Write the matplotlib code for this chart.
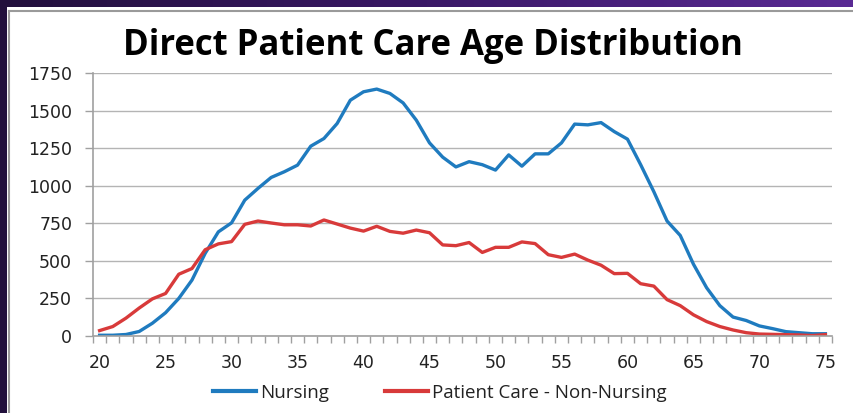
import numpy as np
import matplotlib
matplotlib.use("Agg")
import matplotlib.pyplot as plt
from matplotlib.patches import Rectangle
from matplotlib.lines import Line2D
from matplotlib.colors import LinearSegmentedColormap

ages = list(range(20, 76))
nursing = [5, 5, 10, 30, 85, 155, 250, 372, 550, 693, 753, 904, 982, 1055, 1093, 1137,
           1263, 1314, 1414, 1569, 1625, 1643, 1614, 1551, 1436, 1285, 1190, 1125, 1160,
           1140, 1104, 1205, 1130, 1212, 1212, 1285, 1410, 1405, 1420, 1360, 1310, 1140,
           960, 765, 669, 478, 321, 202, 126, 103, 67, 49, 29, 22, 15, 15]
non_nursing = [36, 63, 119, 186, 247, 283, 411, 449, 574, 613, 628, 743, 765, 752, 740, 740,
               732, 772, 745, 718, 698, 730, 696, 684, 705, 687, 606, 601, 622, 556, 590,
               590, 626, 615, 541, 523, 545, 505, 471, 415, 417, 348, 332, 242, 202, 141,
               96, 63, 40, 22, 13, 11, 9, 7, 3, 9]
x_tick_labels = list(range(20, 76, 5))
y_ticks = list(range(0, 1751, 250))
title = "Direct Patient Care Age Distribution"
series_names = ["Nursing", "Patient Care - Non-Nursing"]

W, H = 854, 413
fig = plt.figure(figsize=(W / 100, H / 100), dpi=100)

# background gradient
bg = fig.add_axes([0, 0, 1, 1], zorder=-10)
grad = np.linspace(0, 1, 256).reshape(1, -1)
cmap = LinearSegmentedColormap.from_list("p", ["#22103c", "#3a1866", "#5a2a94"])
bg.imshow(grad, aspect="auto", cmap=cmap, extent=[0, 1, 0, 1])
bg.set_xlim(0, 1); bg.set_ylim(0, 1)
bg.axis("off")
bg.add_patch(Rectangle((7 / W, 0), 1, 1 - 7 / H, facecolor="white", edgecolor="none"))
bg.add_line(Line2D([8.5 / W, 8.5 / W], [0, 1 - 10.5 / H], color="#9a9a9a", lw=1.5))
bg.add_line(Line2D([8.5 / W, 1], [1 - 10.5 / H, 1 - 10.5 / H], color="#9a9a9a", lw=1.5))

ax = fig.add_axes([93 / W, 1 - 336 / H, (832 - 93) / W, (336 - 73) / H])
blue = "#1f7bbf"
red = "#d83a3a"
ax.plot(ages, nursing, color=blue, lw=2.4, label=series_names[0], solid_joinstyle="round")
ax.plot(ages, non_nursing, color=red, lw=2.4, label=series_names[1], solid_joinstyle="round")

ax.set_xlim(19.5, 75.5)
ax.set_ylim(0, 1750)
ax.set_yticks(y_ticks)
ax.set_xticks(x_tick_labels)
ax.set_xticks(np.arange(19.5, 76, 1.0), minor=True)
ax.grid(axis="y", color="#b4b4b4", lw=1)
ax.set_axisbelow(True)
for s in ["top", "right"]:
    ax.spines[s].set_visible(False)
for s in ["left", "bottom"]:
    ax.spines[s].set_color("#a0a0a0")
    ax.spines[s].set_linewidth(1.2)
ax.tick_params(axis="y", length=6, width=1, color="#a0a0a0", pad=9,
               labelsize=12.5, labelcolor="#222222")
ax.tick_params(axis="x", which="major", length=0, pad=13, labelsize=12.5, labelcolor="#222222")
ax.tick_params(axis="x", which="minor", length=5, width=1, color="#a0a0a0")
for lab in ax.get_xticklabels() + ax.get_yticklabels():
    lab.set_family("DejaVu Sans")

fig.text(433 / W, 1 - 46 / H, title, ha="center", va="center", fontsize=25,
         fontweight="bold", family="Open Sans", color="black")

leg = fig.legend(loc="center", bbox_to_anchor=(440 / W, 1 - 393 / H), ncol=2,
                 frameon=False, handlelength=2.3, columnspacing=3.0, handletextpad=0.2,
                 prop={"family": "Open Sans", "size": 13.5})
for line in leg.get_lines():
    line.set_linewidth(3)
for t in leg.get_texts():
    t.set_color("#222222")

fig.savefig("out.png", dpi=100)
